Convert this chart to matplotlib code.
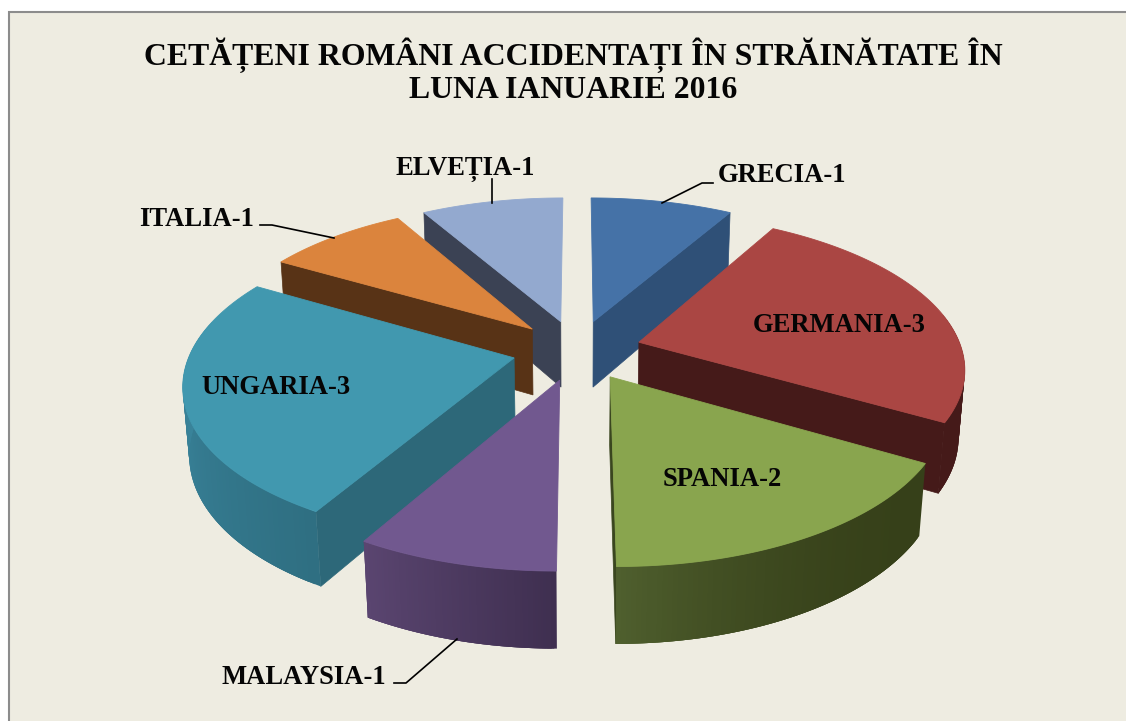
import numpy as np
import matplotlib
matplotlib.use("Agg")
import matplotlib.pyplot as plt
from matplotlib.patches import Polygon, Rectangle

# date
tari = ["GRECIA", "GERMANIA", "SPANIA", "MALAYSIA", "UNGARIA", "ITALIA", "ELVEȚIA"]
valori = [1, 3, 2, 1, 3, 1, 1]
culori_sus = ["#4572a7", "#aa4643", "#89a54e", "#71588f", "#4198af", "#db843d", "#93a9cf"]
culori_perete = ["#2f5077", "#451a19", "#3a461f", "#453353", "#2d6879", "#583316", "#3b4254"]
# gradient pe peretele exterior: (la inceputul felii, la sfarsitul felii)
culori_margine = [
    ("#2f5077", "#2f5077"),
    ("#451a19", "#451a19"),
    ("#364019", "#4f5f2e"),
    ("#3f2f50", "#5a4570"),
    ("#2f6f82", "#3f8fa8"),
    ("#583316", "#583316"),
    ("#3b4254", "#3b4254"),
]
putere_gradient = [1, 1, 2.5, 1, 1, 1, 1]
# care perete radial se vede la fiecare felie
perete_vizibil = ["sfarsit", "sfarsit", "sfarsit", None, "start", "start", "start"]
# ordinea de desenare, din spate in fata
ordine = [0, 6, 5, 1, 4, 2, 3]

titlu = "CETĂȚENI ROMÂNI ACCIDENTAȚI ÎN STRĂINĂTATE ÎN\nLUNA IANUARIE 2016"

pozitii_etichete = [(718, 176), (753, 326), (663, 479), (222, 677), (201, 387), (139, 219), (396, 169)]
linii_etichete = [
    [(662, 203), (702, 183), (713, 183)],
    None,
    None,
    [(394, 683), (406, 683), (457, 639)],
    None,
    [(260, 225), (272, 225), (334, 238)],
    [(492, 179), (492, 203)],
]

# parametri de proiectie pentru pie-ul 3D
CX, CY = 577, 350
A, B = 323, 151
K = 0.155
EXPLODE = 0.2
INALTIME_Y = 68
INALTIME_W = 0.016


def proiecteaza(x, v, jos=False):
    w = 1 + K * v
    y = -B * v
    if jos:
        w = w + INALTIME_W
        y = y + INALTIME_Y
    return CX + A * x / w, CY + y / w


def amesteca(c1, c2, t):
    a = np.array(matplotlib.colors.to_rgb(c1))
    b = np.array(matplotlib.colors.to_rgb(c2))
    return tuple(a + (b - a) * t)


def deseneaza_felie(ax, start, sfarsit, sus, perete, margine, vizibil, putere):
    mijloc = (start + sfarsit) / 2
    ox = EXPLODE * np.sin(mijloc)
    ov = EXPLODE * np.cos(mijloc)
    unghiuri = np.linspace(start, sfarsit, 80)
    xs = ox + np.sin(unghiuri)
    vs = ov + np.cos(unghiuri)

    # peretele radial care se vede
    if vizibil is not None:
        u = start if vizibil == "start" else sfarsit
        x1, v1 = ox + np.sin(u), ov + np.cos(u)
        quad = [proiecteaza(ox, ov), proiecteaza(x1, v1),
                proiecteaza(x1, v1, True), proiecteaza(ox, ov, True)]
        ax.add_patch(Polygon(quad, closed=True, facecolor=perete, edgecolor=perete, linewidth=0.5))

    # peretele exterior, pe fasii suprapuse ca sa nu se vada rosturile
    n = len(unghiuri)
    for i in range(n - 1):
        if np.cos(unghiuri[i]) > 0.2:
            continue
        j = min(i + 3, n - 1)
        t = (i / (n - 2)) ** putere
        c = amesteca(margine[0], margine[1], t)
        quad = [proiecteaza(xs[i], vs[i]), proiecteaza(xs[j], vs[j]),
                proiecteaza(xs[j], vs[j], True), proiecteaza(xs[i], vs[i], True)]
        ax.add_patch(Polygon(quad, closed=True, facecolor=c, edgecolor="none"))

    # fata de sus
    puncte = [proiecteaza(ox, ov)] + [proiecteaza(a, b) for a, b in zip(xs, vs)]
    ax.add_patch(Polygon(puncte, closed=True, facecolor=sus, edgecolor=sus, linewidth=0.6))


fig = plt.figure(figsize=(11.26, 7.21), dpi=100, facecolor="white")
ax = fig.add_axes([0, 0, 1, 1])
ax.set_xlim(0, 1126)
ax.set_ylim(721, 0)
ax.axis("off")

ax.add_patch(Rectangle((8.5, 11.5), 1200, 800, facecolor="#eeece1", edgecolor="#8c8c8c", linewidth=1.5))

limite = np.cumsum([0] + valori) / sum(valori) * 2 * np.pi
for i in ordine:
    deseneaza_felie(ax, limite[i], limite[i + 1], culori_sus[i], culori_perete[i], culori_margine[i],
                    perete_vizibil[i], putere_gradient[i])

plt.rcParams["font.family"] = ["Liberation Serif", "DejaVu Serif"]
ax.text(573, 71, titlu, ha="center", va="center", fontsize=22.9, fontweight="bold",
        color="#050505", linespacing=1.135)

for i in range(len(tari)):
    px, py = pozitii_etichete[i]
    ax.text(px, py, f"{tari[i]}-{valori[i]}", ha="left", va="center", fontsize=19.2,
            fontweight="bold", color="#050505")
    if linii_etichete[i] is not None:
        lx = [p[0] for p in linii_etichete[i]]
        ly = [p[1] for p in linii_etichete[i]]
        ax.plot(lx, ly, color="black", linewidth=1.2)

fig.savefig("out.png", dpi=100)
